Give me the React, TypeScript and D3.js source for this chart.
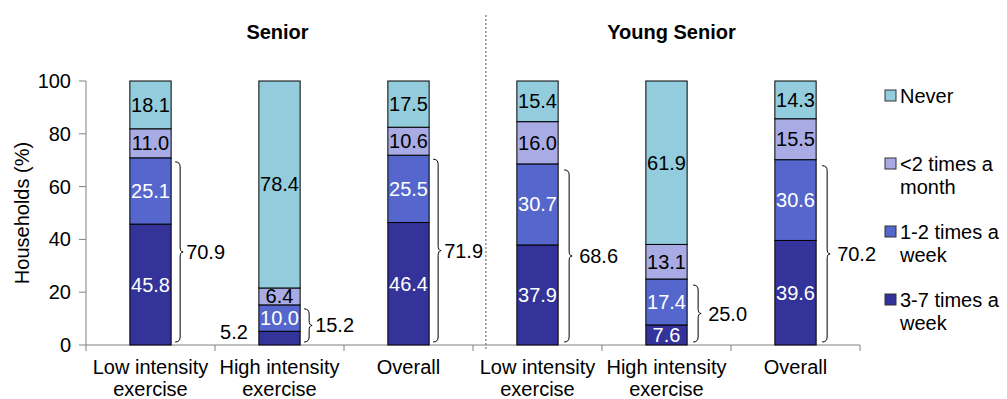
import React from "react";
import * as d3 from "d3";

// Share of households by exercise frequency (%), one entry per bar
const groupTitles = ["Senior", "Young Senior"];
const categoryLabels = [
  ["Low intensity", "exercise"],
  ["High intensity", "exercise"],
  ["Overall"],
  ["Low intensity", "exercise"],
  ["High intensity", "exercise"],
  ["Overall"],
];
const seriesNames = ["3-7 times a week", "1-2 times a week", "<2 times a month", "Never"];
const legendLines = [["3-7 times a", "week"], ["1-2 times a", "week"], ["<2 times a", "month"], ["Never"]];
const freq3to7 = [45.8, 5.2, 46.4, 37.9, 7.6, 39.6];
const freq1to2 = [25.1, 10.0, 25.5, 30.7, 17.4, 30.6];
const freqLess2 = [11.0, 6.4, 10.6, 16.0, 13.1, 15.5];
const freqNever = [18.1, 78.4, 17.5, 15.4, 61.9, 14.3];
const weeklyTotals = [70.9, 15.2, 71.9, 68.6, 25.0, 70.2];
const yTicks = [0, 20, 40, 60, 80, 100];

const colors = ["#333399", "#5567cc", "#a8abe4", "#93cddd"];
const labelColors = ["#ffffff", "#ffffff", "#000000", "#000000"];

const W = 1007;
const H = 399;
const FONT = "'Liberation Sans', Arial, sans-serif";

function bracePath(x0: number, top: number, bottom: number, w: number, tip: number) {
  const mid = (top + bottom) / 2;
  const x1 = x0 + w;
  const r = 5;
  return [
    `M${x0},${top}`,
    `Q${x1},${top} ${x1},${top + r}`,
    `L${x1},${mid - r}`,
    `Q${x1},${mid} ${x1 + tip},${mid}`,
    `Q${x1},${mid} ${x1},${mid + r}`,
    `L${x1},${bottom - r}`,
    `Q${x1},${bottom} ${x0},${bottom}`,
  ].join(" ");
}

export default function App() {
  const x = d3
    .scaleBand<number>()
    .domain(d3.range(categoryLabels.length))
    .range([86, 860])
    .paddingInner(0.68)
    .paddingOuter(0.34);
  const y = d3.scaleLinear().domain([0, 100]).range([345, 81]);
  const step = x.step();
  const bw = x.bandwidth();

  const table = categoryLabels.map((_, i) => ({
    i,
    "3-7 times a week": freq3to7[i],
    "1-2 times a week": freq1to2[i],
    "<2 times a month": freqLess2[i],
    Never: freqNever[i],
  }));
  const stacked = d3.stack<any>().keys(seriesNames)(table);

  const boundaries = d3.range(categoryLabels.length + 1).map((k) => 86 + k * step);
  const sepX = boundaries[3] + step * 0.1;
  const titleShift = [-2, 5];

  return (
    <svg
      width={W}
      height={H}
      style={{ position: "absolute", left: 0, top: 0, background: "#fff" }}
      fontFamily={FONT}
    >
      {/* group titles */}
      {groupTitles.map((t, g) => {
        const cx = (boundaries[g * 3] + boundaries[g * 3 + 3]) / 2 + titleShift[g];
        return (
          <text key={t} x={cx} y={32} textAnchor="middle" dominantBaseline="central" fontSize={20} fontWeight="bold">
            {t}
          </text>
        );
      })}

      {/* separator between groups */}
      <line x1={sepX} x2={sepX} y1={15} y2={349} stroke="#555" strokeWidth={1} strokeDasharray="2,2" />

      {/* axes */}
      <line x1={86} x2={86} y1={y(100)} y2={y(0)} stroke="#808080" strokeWidth={1} />
      {yTicks.map((t) => (
        <g key={t}>
          <line x1={79} x2={86} y1={y(t)} y2={y(t)} stroke="#808080" />
          <text x={71} y={y(t)} textAnchor="end" dominantBaseline="central" fontSize={20}>
            {t}
          </text>
        </g>
      ))}
      <line x1={86} x2={860} y1={y(0)} y2={y(0)} stroke="#808080" strokeWidth={1} />
      {boundaries.map((bx, k) => (
        <line key={k} x1={bx} x2={bx} y1={y(0)} y2={y(0) + 6} stroke="#808080" />
      ))}
      <text
        transform={`translate(22,${(y(0) + y(100)) / 2}) rotate(-90)`}
        textAnchor="middle"
        dominantBaseline="central"
        fontSize={20}
      >
        Households (%)
      </text>

      {/* category labels */}
      {categoryLabels.map((lines, i) => (
        <text key={i} x={x(i)! + bw / 2} y={367} textAnchor="middle" fontSize={20} dominantBaseline="central">
          {lines.map((ln, k) => (
            <tspan key={k} x={x(i)! + bw / 2} dy={k === 0 ? 0 : 21.5}>
              {ln}
            </tspan>
          ))}
        </text>
      ))}

      {/* stacked bars */}
      {stacked.map((layer, s) => (
        <g key={layer.key}>
          {layer.map((d, i) => {
            const top = y(d[1]);
            const bot = y(d[0]);
            const val = d[1] - d[0];
            const small = bot - top < 16;
            return (
              <g key={i}>
                <rect x={x(i)} y={top} width={bw} height={bot - top} fill={colors[s]} stroke="#000" strokeWidth={1} />
                <text
                  x={small ? x(i)! - 11 : x(i)! + bw / 2}
                  y={small ? (top + bot) / 2 - 6 : (top + bot) / 2}
                  textAnchor={small ? "end" : "middle"}
                  dominantBaseline="central"
                  fontSize={20}
                  fill={small ? "#000" : labelColors[s]}
                >
                  {val.toFixed(1)}
                </text>
              </g>
            );
          })}
        </g>
      ))}

      {/* braces showing weekly totals */}
      {weeklyTotals.map((v, i) => {
        const young = i >= 3;
        const x0 = x(i)! + bw + (young ? 6 : 4);
        const top = y(v) + (young ? 6 : 4);
        const bot = y(0) - 3;
        return (
          <g key={i}>
            <path d={bracePath(x0, top, bot, 5, 3)} fill="none" stroke="#000" strokeWidth={1} />
            <text x={x0 + (young ? 15 : 11)} y={(top + bot) / 2} dominantBaseline="central" fontSize={20}>
              {v.toFixed(1)}
            </text>
          </g>
        );
      })}

      {/* legend */}
      {[3, 2, 1, 0].map((s, k) => {
        const ly = 96 + k * 68;
        return (
          <g key={s}>
            <rect x={885} y={ly - 6} width={11} height={11} fill={colors[s]} stroke="#333" strokeWidth={1} />
            <text x={900} y={ly} dominantBaseline="central" fontSize={20}>
              {legendLines[s].map((ln, j) => (
                <tspan key={j} x={900} dy={j === 0 ? 0 : 22.5}>
                  {ln}
                </tspan>
              ))}
            </text>
          </g>
        );
      })}
    </svg>
  );
}
